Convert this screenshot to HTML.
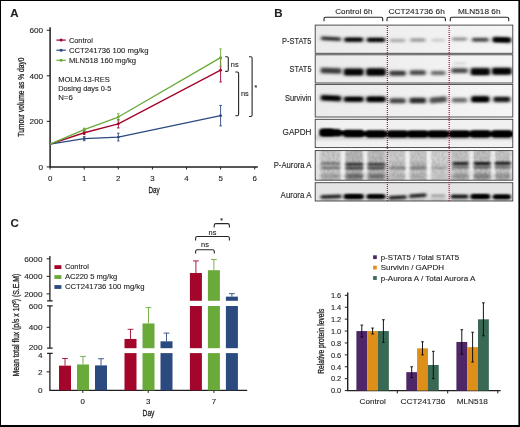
<!DOCTYPE html>
<html lang="en"><head><meta charset="utf-8"><title>Figure</title>
<style>html,body{margin:0;padding:0;background:#fff;}svg{display:block;will-change:transform;}text{font-family:"Liberation Sans", "DejaVu Sans", sans-serif;fill:#231f20;stroke:#231f20;stroke-width:0.12px;}</style>
</head><body>
<svg width="520" height="427" viewBox="0 0 520 427">
<defs>
<filter id="b1" x="-30%" y="-150%" width="160%" height="400%"><feGaussianBlur stdDeviation="1.5 0.95"/></filter>
<filter id="b2" x="-30%" y="-150%" width="160%" height="400%"><feGaussianBlur stdDeviation="2 1.6"/></filter>
<filter id="noise" x="0" y="0" width="100%" height="100%"><feTurbulence type="fractalNoise" baseFrequency="0.4 0.28" numOctaves="2" seed="7" result="n"/><feColorMatrix in="n" type="matrix" values="0 0 0 0 0  0 0 0 0 0  0 0 0 0 0  1.6 0 0 0 -0.45"/><feGaussianBlur stdDeviation="0.7"/></filter>
<linearGradient id="bgA" x1="0" y1="0" x2="1" y2="0"><stop offset="0" stop-color="#ebebeb"/><stop offset="0.5" stop-color="#f0f0f0"/><stop offset="1" stop-color="#f5f5f5"/></linearGradient>
<filter id="b3" x="-20%" y="-20%" width="140%" height="140%"><feGaussianBlur stdDeviation="2.2 1.2"/></filter>
<linearGradient id="bg1" x1="0" y1="0" x2="0" y2="1"><stop offset="0" stop-color="#efefef"/><stop offset="1" stop-color="#f6f6f6"/></linearGradient>
</defs>
<rect x="0" y="0" width="520" height="427" fill="#fff"/>
<g id="panelA">
<text x="10.3" y="17.1" font-size="11.5" text-anchor="start" font-weight="bold" fill="#000" >A</text>
<path d="M50.1 27.3V166.9H257.8" fill="none" stroke="#231f20" stroke-width="1.5"/>
<path d="M46.7 166.9H50.1" stroke="#231f20" stroke-width="1"/>
<text x="38.63" y="169.6" font-size="7.9" text-anchor="start" textLength="4.57" lengthAdjust="spacingAndGlyphs" >0</text>
<path d="M46.7 121.36H50.1" stroke="#231f20" stroke-width="1"/>
<text x="29.49" y="124.06" font-size="7.9" text-anchor="start" textLength="13.71" lengthAdjust="spacingAndGlyphs" >200</text>
<path d="M46.7 75.82H50.1" stroke="#231f20" stroke-width="1"/>
<text x="29.49" y="78.52" font-size="7.9" text-anchor="start" textLength="13.71" lengthAdjust="spacingAndGlyphs" >400</text>
<path d="M46.7 30.28H50.1" stroke="#231f20" stroke-width="1"/>
<text x="29.49" y="32.98" font-size="7.9" text-anchor="start" textLength="13.71" lengthAdjust="spacingAndGlyphs" >600</text>
<path d="M50.1 166.9v2.6" stroke="#231f20" stroke-width="1"/>
<text x="50.1" y="180.5" font-size="7.9" text-anchor="middle" >0</text>
<path d="M84.2 166.9v2.6" stroke="#231f20" stroke-width="1"/>
<text x="84.2" y="180.5" font-size="7.9" text-anchor="middle" >1</text>
<path d="M118.3 166.9v2.6" stroke="#231f20" stroke-width="1"/>
<text x="118.3" y="180.5" font-size="7.9" text-anchor="middle" >2</text>
<path d="M152.4 166.9v2.6" stroke="#231f20" stroke-width="1"/>
<text x="152.4" y="180.5" font-size="7.9" text-anchor="middle" >3</text>
<path d="M186.5 166.9v2.6" stroke="#231f20" stroke-width="1"/>
<text x="186.5" y="180.5" font-size="7.9" text-anchor="middle" >4</text>
<path d="M220.6 166.9v2.6" stroke="#231f20" stroke-width="1"/>
<text x="220.6" y="180.5" font-size="7.9" text-anchor="middle" >5</text>
<path d="M254.7 166.9v2.6" stroke="#231f20" stroke-width="1"/>
<text x="254.7" y="180.5" font-size="7.9" text-anchor="middle" >6</text>
<text x="148.5" y="193.1" font-size="9" text-anchor="start" textLength="11.2" lengthAdjust="spacingAndGlyphs" style="stroke-width:0.3px">Day</text>
<text transform="translate(23.5,136.7) rotate(-90)" font-size="8.8" style="stroke-width:0.3px" textLength="79.3" lengthAdjust="spacingAndGlyphs">Tumour volume as % day0</text>
<path d="M50.1 144.13 L84.2 132.75 L118.3 123.86 L220.6 70.13" fill="none" stroke="#a3052b" stroke-width="1.35" stroke-linejoin="round"/>
<path d="M84.2 130.92V134.57M82.9 130.92h2.6M82.9 134.57h2.6" fill="none" stroke="#a3052b" stroke-width="0.9"/>
<circle cx="84.2" cy="132.75" r="1.4" fill="#a3052b"/>
<path d="M118.3 119.77V127.96M117.0 119.77h2.6M117.0 127.96h2.6" fill="none" stroke="#a3052b" stroke-width="0.9"/>
<circle cx="118.3" cy="123.86" r="1.4" fill="#a3052b"/>
<path d="M220.6 58.29V81.97M219.29999999999998 58.29h2.6M219.29999999999998 81.97h2.6" fill="none" stroke="#a3052b" stroke-width="0.9"/>
<circle cx="220.6" cy="70.13" r="1.4" fill="#a3052b"/>
<path d="M50.1 144.13 L84.2 138.67 L118.3 137.07 L220.6 115.67" fill="none" stroke="#2b4a7f" stroke-width="1.35" stroke-linejoin="round"/>
<path d="M84.2 136.62V140.71M82.9 136.62h2.6M82.9 140.71h2.6" fill="none" stroke="#2b4a7f" stroke-width="0.9"/>
<circle cx="84.2" cy="138.67" r="1.4" fill="#2b4a7f"/>
<path d="M118.3 133.2V140.94M117.0 133.2h2.6M117.0 140.94h2.6" fill="none" stroke="#2b4a7f" stroke-width="0.9"/>
<circle cx="118.3" cy="137.07" r="1.4" fill="#2b4a7f"/>
<path d="M220.6 105.42V125.91M219.29999999999998 105.42h2.6M219.29999999999998 125.91h2.6" fill="none" stroke="#2b4a7f" stroke-width="0.9"/>
<circle cx="220.6" cy="115.67" r="1.4" fill="#2b4a7f"/>
<path d="M50.1 144.13 L84.2 129.56 L118.3 117.03 L220.6 57.6" fill="none" stroke="#6aaa3a" stroke-width="1.35" stroke-linejoin="round"/>
<path d="M84.2 128.19V130.92M82.9 128.19h2.6M82.9 130.92h2.6" fill="none" stroke="#6aaa3a" stroke-width="0.9"/>
<circle cx="84.2" cy="129.56" r="1.4" fill="#6aaa3a"/>
<path d="M118.3 113.85V120.22M117.0 113.85h2.6M117.0 120.22h2.6" fill="none" stroke="#6aaa3a" stroke-width="0.9"/>
<circle cx="118.3" cy="117.03" r="1.4" fill="#6aaa3a"/>
<path d="M220.6 48.95V66.26M219.29999999999998 48.95h2.6M219.29999999999998 66.26h2.6" fill="none" stroke="#6aaa3a" stroke-width="0.9"/>
<circle cx="220.6" cy="57.6" r="1.4" fill="#6aaa3a"/>
<path d="M56.4 40.10H65.8" stroke="#a3052b" stroke-width="1.2"/><circle cx="61.1" cy="40.10" r="1.5" fill="#a3052b"/>
<text x="68.9" y="42.6" font-size="7.6" text-anchor="start" textLength="23.9" lengthAdjust="spacingAndGlyphs" >Control</text>
<path d="M56.4 50.20H65.8" stroke="#2b4a7f" stroke-width="1.2"/><circle cx="61.1" cy="50.20" r="1.5" fill="#2b4a7f"/>
<text x="68.9" y="52.7" font-size="7.6" text-anchor="start" textLength="79.6" lengthAdjust="spacingAndGlyphs" >CCT241736 100 mg/kg</text>
<path d="M56.4 60.30H65.8" stroke="#6aaa3a" stroke-width="1.2"/><circle cx="61.1" cy="60.30" r="1.5" fill="#6aaa3a"/>
<text x="68.9" y="62.8" font-size="7.6" text-anchor="start" textLength="67.2" lengthAdjust="spacingAndGlyphs" >MLN518 160 mg/kg</text>
<text x="58.2" y="82.3" font-size="7.6" text-anchor="start" textLength="51.6" lengthAdjust="spacingAndGlyphs" >MOLM-13-RES</text>
<text x="58.2" y="91.3" font-size="7.6" text-anchor="start" textLength="53.2" lengthAdjust="spacingAndGlyphs" >Dosing days 0-5</text>
<text x="58.2" y="100.4" font-size="7.6" text-anchor="start" textLength="14.6" lengthAdjust="spacingAndGlyphs" >N=6</text>
<path d="M225.2 56.8H226.9Q228.3 56.8 228.3 58.199999999999996V70.0Q228.3 71.4 226.9 71.4H225.2" fill="none" stroke="#262626" stroke-width="1.1"/>
<text x="230.8" y="67.2" font-size="7.4" text-anchor="start" >ns</text>
<path d="M235.3 72.0H237.2Q238.6 72.0 238.6 73.4V114.3Q238.6 115.7 237.2 115.7H235.3" fill="none" stroke="#262626" stroke-width="1.1"/>
<text x="241.0" y="96.4" font-size="7.4" text-anchor="start" >ns</text>
<path d="M249.0 56.8H250.7Q252.1 56.8 252.1 58.199999999999996V115.1Q252.1 116.5 250.7 116.5H249.0" fill="none" stroke="#262626" stroke-width="1.1"/>
<text x="254.5" y="90.2" font-size="6.8" text-anchor="start" >*</text>
</g>
<g id="panelB">
<text x="274.2" y="17.1" font-size="11.5" text-anchor="start" font-weight="bold" fill="#000" >B</text>
<text x="335.2" y="14.0" font-size="8.1" text-anchor="start" textLength="37.2" lengthAdjust="spacingAndGlyphs" >Control 6h</text>
<text x="388.4" y="14.0" font-size="8.1" text-anchor="start" textLength="56.4" lengthAdjust="spacingAndGlyphs" >CCT241736 6h</text>
<text x="457.9" y="14.0" font-size="8.1" text-anchor="start" textLength="42.6" lengthAdjust="spacingAndGlyphs" >MLN518 6h</text>
<path d="M324 21.3V18.7Q324 17.2 325.5 17.2H381.2Q382.7 17.2 382.7 18.7V21.3" fill="none" stroke="#262626" stroke-width="1.1"/>
<path d="M387 21.3V18.7Q387 17.2 388.5 17.2H443.9Q445.4 17.2 445.4 18.7V21.3" fill="none" stroke="#262626" stroke-width="1.1"/>
<path d="M450.3 21.3V18.7Q450.3 17.2 451.8 17.2H507.2Q508.7 17.2 508.7 18.7V21.3" fill="none" stroke="#262626" stroke-width="1.1"/>
<clipPath id="c0"><rect x="315.2" y="25.1" width="197.6" height="28.2"/></clipPath>
<rect x="315.2" y="25.1" width="197.6" height="28.2" fill="url(#bgA)"/>
<g clip-path="url(#c0)">
<rect x="320.6" y="36.10" width="20.8" height="5.2" rx="1.60" fill="#000" opacity="0.22400000000000003" filter="url(#b2)" transform="rotate(3 331 38.7)"/>
<rect x="321.2" y="37.20" width="19.6" height="3.0" rx="1.50" fill="#000" opacity="0.8" filter="url(#b1)" transform="rotate(3 331 38.7)"/>
<rect x="343.9" y="36.70" width="19.6" height="6.0" rx="1.60" fill="#000" opacity="0.266" filter="url(#b2)"/>
<rect x="344.5" y="37.80" width="18.4" height="3.8" rx="1.60" fill="#000" opacity="0.95" filter="url(#b1)"/>
<rect x="366.4" y="36.80" width="19.2" height="6.0" rx="1.60" fill="#000" opacity="0.266" filter="url(#b2)"/>
<rect x="367.0" y="37.90" width="18.0" height="3.8" rx="1.60" fill="#000" opacity="0.95" filter="url(#b1)"/>
<rect x="389.4" y="37.80" width="16.4" height="5.2" rx="1.60" fill="#000" opacity="0.06160000000000001" filter="url(#b2)"/>
<rect x="390.0" y="38.90" width="15.2" height="3.0" rx="1.50" fill="#000" opacity="0.22" filter="url(#b1)"/>
<rect x="409.6" y="37.40" width="16.4" height="5.2" rx="1.60" fill="#000" opacity="0.084" filter="url(#b2)"/>
<rect x="410.2" y="38.50" width="15.2" height="3.0" rx="1.50" fill="#000" opacity="0.3" filter="url(#b1)"/>
<rect x="431.0" y="37.80" width="14.4" height="4.800000000000001" rx="1.60" fill="#000" opacity="0.033600000000000005" filter="url(#b2)"/>
<rect x="431.6" y="38.90" width="13.2" height="2.6" rx="1.30" fill="#000" opacity="0.12" filter="url(#b1)"/>
<rect x="451.5" y="36.60" width="16.0" height="5.0" rx="1.60" fill="#000" opacity="0.09520000000000002" filter="url(#b2)"/>
<rect x="452.1" y="37.70" width="14.8" height="2.8" rx="1.40" fill="#000" opacity="0.34" filter="url(#b1)"/>
<rect x="471.5" y="37.00" width="17.6" height="5.6" rx="1.60" fill="#000" opacity="0.1736" filter="url(#b2)"/>
<rect x="472.1" y="38.10" width="16.4" height="3.4" rx="1.60" fill="#000" opacity="0.62" filter="url(#b1)"/>
<rect x="492.2" y="36.50" width="19.2" height="6.8" rx="1.60" fill="#000" opacity="0.28" filter="url(#b2)" transform="rotate(2 501.8 39.9)"/>
<rect x="492.8" y="37.60" width="18.0" height="4.6" rx="1.60" fill="#000" opacity="1" filter="url(#b1)" transform="rotate(2 501.8 39.9)"/>
<rect x="494.2" y="38.60" width="15.2" height="2.6" rx="1.30" fill="#000" opacity="0.8" filter="url(#b1)"/>
<rect x="346.7" y="39.10" width="14.0" height="1.6" rx="0.80" fill="#000" opacity="0.4" filter="url(#b1)"/>
<rect x="369.0" y="39.20" width="14.0" height="1.6" rx="0.80" fill="#000" opacity="0.4" filter="url(#b1)"/>
</g>
<rect x="315.2" y="25.1" width="197.6" height="28.2" fill="none" stroke="#3c3c3c" stroke-width="0.9"/>
<text x="282.1" y="44.0" font-size="8.3" text-anchor="start" textLength="29.4" lengthAdjust="spacingAndGlyphs" >P-STAT5</text>
<clipPath id="c1"><rect x="315.2" y="54.8" width="197.6" height="28.2"/></clipPath>
<rect x="315.2" y="54.8" width="197.6" height="28.2" fill="url(#bgA)"/>
<g clip-path="url(#c1)">
<rect x="320.2" y="67.10" width="21.6" height="7.4" rx="1.60" fill="#000" opacity="0.20400000000000001" filter="url(#b2)" transform="rotate(2 331 70.8)"/>
<rect x="320.8" y="68.30" width="20.4" height="5.0" rx="1.60" fill="#000" opacity="0.68" filter="url(#b1)" transform="rotate(2 331 70.8)"/>
<rect x="343.5" y="67.50" width="20.4" height="9.0" rx="1.60" fill="#000" opacity="0.276" filter="url(#b2)"/>
<rect x="344.1" y="68.70" width="19.2" height="6.6" rx="1.60" fill="#000" opacity="0.92" filter="url(#b1)"/>
<rect x="365.8" y="67.40" width="20.4" height="9.2" rx="1.60" fill="#000" opacity="0.285" filter="url(#b2)"/>
<rect x="366.4" y="68.60" width="19.2" height="6.8" rx="1.60" fill="#000" opacity="0.95" filter="url(#b1)"/>
<rect x="389.0" y="69.70" width="17.2" height="7.0" rx="1.60" fill="#000" opacity="0.20400000000000001" filter="url(#b2)"/>
<rect x="389.6" y="70.90" width="16.0" height="4.6" rx="1.60" fill="#000" opacity="0.68" filter="url(#b1)"/>
<rect x="409.4" y="69.20" width="16.8" height="6.800000000000001" rx="1.60" fill="#000" opacity="0.186" filter="url(#b2)"/>
<rect x="410.0" y="70.40" width="15.6" height="4.4" rx="1.60" fill="#000" opacity="0.62" filter="url(#b1)"/>
<rect x="430.4" y="69.90" width="15.6" height="6.199999999999999" rx="1.60" fill="#000" opacity="0.132" filter="url(#b2)"/>
<rect x="431.0" y="71.10" width="14.4" height="3.8" rx="1.60" fill="#000" opacity="0.44" filter="url(#b1)"/>
<rect x="450.9" y="67.20" width="17.2" height="6.800000000000001" rx="1.60" fill="#000" opacity="0.186" filter="url(#b2)"/>
<rect x="451.5" y="68.40" width="16.0" height="4.4" rx="1.60" fill="#000" opacity="0.62" filter="url(#b1)"/>
<rect x="470.3" y="67.10" width="20.0" height="9.0" rx="1.60" fill="#000" opacity="0.276" filter="url(#b2)"/>
<rect x="470.9" y="68.30" width="18.8" height="6.6" rx="1.60" fill="#000" opacity="0.92" filter="url(#b1)"/>
<rect x="491.6" y="66.80" width="20.4" height="8.8" rx="1.60" fill="#000" opacity="0.285" filter="url(#b2)"/>
<rect x="492.2" y="68.00" width="19.2" height="6.4" rx="1.60" fill="#000" opacity="0.95" filter="url(#b1)"/>
<rect x="346.1" y="71.10" width="15.2" height="3.0" rx="1.50" fill="#000" opacity="0.55" filter="url(#b1)"/>
<rect x="368.4" y="71.10" width="15.2" height="3.0" rx="1.50" fill="#000" opacity="0.55" filter="url(#b1)"/>
<rect x="472.7" y="70.70" width="15.2" height="3.0" rx="1.50" fill="#000" opacity="0.55" filter="url(#b1)"/>
<rect x="494.2" y="70.30" width="15.2" height="3.0" rx="1.50" fill="#000" opacity="0.55" filter="url(#b1)"/>
<rect x="453.5" y="62.20" width="13.0" height="2.4" rx="1.20" fill="#000" opacity="0.1" filter="url(#b1)"/>
</g>
<rect x="315.2" y="54.8" width="197.6" height="28.2" fill="none" stroke="#3c3c3c" stroke-width="0.9"/>
<text x="289.6" y="72.1" font-size="8.3" text-anchor="start" textLength="21.9" lengthAdjust="spacingAndGlyphs" >STAT5</text>
<clipPath id="c2"><rect x="315.2" y="84.4" width="197.6" height="32.6"/></clipPath>
<rect x="315.2" y="84.4" width="197.6" height="32.6" fill="url(#bgA)"/>
<g clip-path="url(#c2)">
<rect x="320.4" y="94.60" width="21.2" height="7.199999999999999" rx="1.60" fill="#000" opacity="0.3136" filter="url(#b2)" transform="rotate(3 331 98.2)"/>
<rect x="321.0" y="95.80" width="20.0" height="4.8" rx="1.60" fill="#000" opacity="0.98" filter="url(#b1)" transform="rotate(3 331 98.2)"/>
<rect x="343.5" y="95.70" width="20.4" height="7.0" rx="1.60" fill="#000" opacity="0.304" filter="url(#b2)"/>
<rect x="344.1" y="96.90" width="19.2" height="4.6" rx="1.60" fill="#000" opacity="0.95" filter="url(#b1)"/>
<rect x="366.0" y="95.50" width="20.0" height="7.4" rx="1.60" fill="#000" opacity="0.3136" filter="url(#b2)"/>
<rect x="366.6" y="96.70" width="18.8" height="5.0" rx="1.60" fill="#000" opacity="0.98" filter="url(#b1)"/>
<rect x="389.2" y="97.30" width="16.8" height="7.0" rx="1.60" fill="#000" opacity="0.1984" filter="url(#b2)"/>
<rect x="389.8" y="98.50" width="15.6" height="4.6" rx="1.60" fill="#000" opacity="0.62" filter="url(#b1)"/>
<rect x="409.2" y="96.70" width="17.2" height="7.4" rx="1.60" fill="#000" opacity="0.2368" filter="url(#b2)"/>
<rect x="409.8" y="97.90" width="16.0" height="5.0" rx="1.60" fill="#000" opacity="0.74" filter="url(#b1)"/>
<rect x="429.2" y="96.00" width="18.0" height="7.6" rx="1.60" fill="#000" opacity="0.192" filter="url(#b2)" transform="rotate(-5 438.2 99.8)"/>
<rect x="429.8" y="97.20" width="16.8" height="5.2" rx="1.60" fill="#000" opacity="0.6" filter="url(#b1)" transform="rotate(-5 438.2 99.8)"/>
<rect x="451.5" y="96.90" width="16.0" height="6.6" rx="1.60" fill="#000" opacity="0.14400000000000002" filter="url(#b2)"/>
<rect x="452.1" y="98.10" width="14.8" height="4.2" rx="1.60" fill="#000" opacity="0.45" filter="url(#b1)"/>
<rect x="470.9" y="95.30" width="18.8" height="7.800000000000001" rx="1.60" fill="#000" opacity="0.32" filter="url(#b2)"/>
<rect x="471.5" y="96.50" width="17.6" height="5.4" rx="1.60" fill="#000" opacity="1" filter="url(#b1)"/>
<rect x="493.0" y="95.90" width="17.6" height="7.0" rx="1.60" fill="#000" opacity="0.2752" filter="url(#b2)"/>
<rect x="493.6" y="97.10" width="16.4" height="4.6" rx="1.60" fill="#000" opacity="0.86" filter="url(#b1)"/>
<rect x="323.6" y="97.10" width="14.8" height="2.2" rx="1.10" fill="#000" opacity="0.6" filter="url(#b1)"/>
<rect x="346.3" y="98.10" width="14.8" height="2.2" rx="1.10" fill="#000" opacity="0.6" filter="url(#b1)"/>
<rect x="368.6" y="98.10" width="14.8" height="2.2" rx="1.10" fill="#000" opacity="0.6" filter="url(#b1)"/>
<rect x="472.9" y="98.10" width="14.8" height="2.2" rx="1.10" fill="#000" opacity="0.6" filter="url(#b1)"/>
</g>
<rect x="315.2" y="84.4" width="197.6" height="32.6" fill="none" stroke="#3c3c3c" stroke-width="0.9"/>
<text x="284.9" y="100.7" font-size="8.3" text-anchor="start" textLength="26.6" lengthAdjust="spacingAndGlyphs" >Survivin</text>
<clipPath id="c3"><rect x="315.2" y="119.3" width="197.6" height="28.3"/></clipPath>
<rect x="315.2" y="119.3" width="197.6" height="28.3" fill="#f1f1f1"/>
<g clip-path="url(#c3)">
<path d="M321 132.4L331 132.6L353.7 133.5L376 134H516.8" fill="none" stroke="#000" stroke-width="5" filter="url(#b1)"/>
<rect x="321.2" y="128.90" width="19.6" height="7.4" rx="1.60" fill="#000" opacity="0.97" filter="url(#b1)"/>
<rect x="343.9" y="129.80" width="19.6" height="7.4" rx="1.60" fill="#000" opacity="0.97" filter="url(#b1)"/>
<rect x="366.2" y="130.30" width="19.6" height="7.4" rx="1.60" fill="#000" opacity="0.97" filter="url(#b1)"/>
<rect x="387.8" y="130.40" width="19.6" height="7.4" rx="1.60" fill="#000" opacity="0.97" filter="url(#b1)"/>
<rect x="408.0" y="130.40" width="19.6" height="7.4" rx="1.60" fill="#000" opacity="0.97" filter="url(#b1)"/>
<rect x="428.4" y="130.40" width="19.6" height="7.4" rx="1.60" fill="#000" opacity="0.97" filter="url(#b1)"/>
<rect x="449.7" y="130.40" width="19.6" height="7.4" rx="1.60" fill="#000" opacity="0.97" filter="url(#b1)"/>
<rect x="470.5" y="130.30" width="19.6" height="7.4" rx="1.60" fill="#000" opacity="0.97" filter="url(#b1)"/>
<rect x="492.0" y="130.30" width="19.6" height="7.4" rx="1.60" fill="#000" opacity="0.97" filter="url(#b1)"/>
<rect x="319.5" y="128.80" width="14.0" height="7.2" rx="1.60" fill="#000" opacity="0.9" filter="url(#b1)"/>
<rect x="311.2" y="135" width="205.6" height="5" fill="#000" opacity="0.12" filter="url(#b2)"/>
</g>
<rect x="315.2" y="119.3" width="197.6" height="28.3" fill="none" stroke="#3c3c3c" stroke-width="0.9"/>
<text x="282.6" y="135.3" font-size="8.3" text-anchor="start" textLength="28.9" lengthAdjust="spacingAndGlyphs" >GAPDH</text>
<clipPath id="c4"><rect x="315.2" y="150.6" width="197.6" height="29.6"/></clipPath>
<rect x="315.2" y="150.6" width="197.6" height="29.6" fill="#d8d8d8"/>
<g clip-path="url(#c4)">
<rect x="315.2" y="150.6" width="197.6" height="29.6" filter="url(#noise)" opacity="0.13"/>
<rect x="320.8" y="147.6" width="19.6" height="35.6" fill="#000" opacity="0.06" filter="url(#b3)"/>
<rect x="345.2" y="147.6" width="18.4" height="35.6" fill="#000" opacity="0.15" filter="url(#b3)"/>
<rect x="367.0" y="147.6" width="18.8" height="35.6" fill="#000" opacity="0.13" filter="url(#b3)"/>
<rect x="389.4" y="147.6" width="16.4" height="35.6" fill="#000" opacity="0.05" filter="url(#b3)"/>
<rect x="409.4" y="147.6" width="17.6" height="35.6" fill="#000" opacity="0.07" filter="url(#b3)"/>
<rect x="430.6" y="147.6" width="16.8" height="35.6" fill="#000" opacity="0.02" filter="url(#b3)"/>
<rect x="451.8" y="147.6" width="17.6" height="35.6" fill="#000" opacity="0.09" filter="url(#b3)"/>
<rect x="473.2" y="147.6" width="18.0" height="35.6" fill="#000" opacity="0.11" filter="url(#b3)"/>
<rect x="494.8" y="147.6" width="16.0" height="35.6" fill="#000" opacity="0.08" filter="url(#b3)"/>
<rect x="315.8" y="147.6" width="3.6" height="35.6" fill="#fff" opacity="0.6" filter="url(#b1)"/>
<rect x="341.3" y="147.6" width="3.4" height="35.6" fill="#fff" opacity="0.95" filter="url(#b1)"/>
<rect x="363.6" y="147.6" width="3.4" height="35.6" fill="#fff" opacity="0.95" filter="url(#b1)"/>
<rect x="405.8" y="147.6" width="3.4" height="35.6" fill="#fff" opacity="0.95" filter="url(#b1)"/>
<rect x="427.1" y="147.6" width="3.4" height="35.6" fill="#fff" opacity="0.95" filter="url(#b1)"/>
<rect x="469.7" y="147.6" width="3.2" height="35.6" fill="#fff" opacity="0.9" filter="url(#b1)"/>
<rect x="491.4" y="147.6" width="3.2" height="35.6" fill="#fff" opacity="0.9" filter="url(#b1)"/>
<rect x="510.1" y="147.6" width="2.6" height="35.6" fill="#fff" opacity="0.55" filter="url(#b1)"/>
<rect x="385.3" y="147.6" width="1.8" height="35.6" fill="#fff" opacity="0.4" filter="url(#b1)"/>
<rect x="448.7" y="147.6" width="1.8" height="35.6" fill="#fff" opacity="0.45" filter="url(#b1)"/>
<rect x="321.0" y="162.00" width="19.2" height="3.0" rx="1.50" fill="#000" opacity="0.38" filter="url(#b1)"/>
<rect x="321.0" y="166.40" width="19.2" height="2.8" rx="1.40" fill="#000" opacity="0.42" filter="url(#b1)"/>
<rect x="321.0" y="173.70" width="19.2" height="5.0" rx="1.60" fill="#000" opacity="0.2" filter="url(#b2)"/>
<rect x="345.4" y="162.70" width="18.0" height="3.0" rx="1.50" fill="#000" opacity="0.74" filter="url(#b1)"/>
<rect x="345.4" y="166.70" width="18.0" height="2.8" rx="1.40" fill="#000" opacity="0.68" filter="url(#b1)"/>
<rect x="345.4" y="173.70" width="18.0" height="5.0" rx="1.60" fill="#000" opacity="0.45" filter="url(#b2)"/>
<rect x="367.4" y="162.70" width="18.0" height="3.0" rx="1.50" fill="#000" opacity="0.68" filter="url(#b1)"/>
<rect x="367.4" y="166.70" width="18.0" height="2.8" rx="1.40" fill="#000" opacity="0.64" filter="url(#b1)"/>
<rect x="367.4" y="173.70" width="18.0" height="5.0" rx="1.60" fill="#000" opacity="0.4" filter="url(#b2)"/>
<rect x="389.2" y="162.50" width="16.8" height="3.0" rx="1.50" fill="#000" opacity="0.08" filter="url(#b1)"/>
<rect x="389.2" y="166.60" width="16.8" height="2.8" rx="1.40" fill="#000" opacity="0.36" filter="url(#b1)"/>
<rect x="389.2" y="173.70" width="16.8" height="5.0" rx="1.60" fill="#000" opacity="0.12" filter="url(#b2)"/>
<rect x="409.8" y="162.50" width="16.8" height="3.0" rx="1.50" fill="#000" opacity="0.12" filter="url(#b1)"/>
<rect x="409.8" y="166.60" width="16.8" height="2.8" rx="1.40" fill="#000" opacity="0.38" filter="url(#b1)"/>
<rect x="409.8" y="173.70" width="16.8" height="5.0" rx="1.60" fill="#000" opacity="0.14" filter="url(#b2)"/>
<rect x="431.4" y="162.50" width="15.2" height="3.0" rx="1.50" fill="#000" opacity="0.04" filter="url(#b1)"/>
<rect x="431.4" y="166.80" width="15.2" height="2.8" rx="1.40" fill="#000" opacity="0.24" filter="url(#b1)"/>
<rect x="431.4" y="173.70" width="15.2" height="5.0" rx="1.60" fill="#000" opacity="0.06" filter="url(#b2)"/>
<rect x="452.6" y="162.00" width="16.0" height="3.0" rx="1.50" fill="#000" opacity="0.86" filter="url(#b1)"/>
<rect x="452.6" y="165.80" width="16.0" height="2.8" rx="1.40" fill="#000" opacity="0.44" filter="url(#b1)"/>
<rect x="452.6" y="173.70" width="16.0" height="5.0" rx="1.60" fill="#000" opacity="0.24" filter="url(#b2)"/>
<rect x="473.8" y="162.00" width="16.8" height="3.0" rx="1.50" fill="#000" opacity="0.92" filter="url(#b1)"/>
<rect x="473.8" y="165.80" width="16.8" height="2.8" rx="1.40" fill="#000" opacity="0.52" filter="url(#b1)"/>
<rect x="473.8" y="173.70" width="16.8" height="5.0" rx="1.60" fill="#000" opacity="0.34" filter="url(#b2)"/>
<rect x="494.6" y="161.80" width="16.4" height="3.0" rx="1.50" fill="#000" opacity="0.9" filter="url(#b1)"/>
<rect x="494.6" y="165.60" width="16.4" height="2.8" rx="1.40" fill="#000" opacity="0.44" filter="url(#b1)"/>
<rect x="494.6" y="173.70" width="16.4" height="5.0" rx="1.60" fill="#000" opacity="0.26" filter="url(#b2)"/>
</g>
<rect x="315.2" y="150.6" width="197.6" height="29.6" fill="none" stroke="#3c3c3c" stroke-width="0.9"/>
<text x="273.7" y="168.4" font-size="8.3" text-anchor="start" textLength="37.8" lengthAdjust="spacingAndGlyphs" >P-Aurora A</text>
<clipPath id="c5"><rect x="315.2" y="182.7" width="197.6" height="18.3"/></clipPath>
<rect x="315.2" y="182.7" width="197.6" height="18.3" fill="#e4e4e4"/>
<g clip-path="url(#c5)">
<rect x="320.4" y="194.80" width="21.2" height="3.8" rx="1.60" fill="#000" opacity="0.85" filter="url(#b1)" transform="rotate(-2 331 196.7)"/>
<rect x="343.7" y="194.00" width="20.0" height="5.0" rx="1.60" fill="#000" opacity="1" filter="url(#b1)"/>
<rect x="366.6" y="194.20" width="18.8" height="4.6" rx="1.60" fill="#000" opacity="1" filter="url(#b1)"/>
<rect x="388.4" y="195.40" width="18.4" height="3.8" rx="1.60" fill="#000" opacity="0.85" filter="url(#b1)" transform="rotate(-3 397.6 197.3)"/>
<rect x="409.0" y="193.70" width="17.6" height="3.8" rx="1.60" fill="#000" opacity="0.85" filter="url(#b1)" transform="rotate(-4 417.8 195.6)"/>
<rect x="430.8" y="194.30" width="14.8" height="3.0" rx="1.50" fill="#000" opacity="0.28" filter="url(#b1)"/>
<rect x="450.7" y="194.50" width="17.6" height="4.0" rx="1.60" fill="#000" opacity="0.9" filter="url(#b1)"/>
<rect x="470.5" y="194.00" width="19.6" height="5.0" rx="1.60" fill="#000" opacity="1" filter="url(#b1)"/>
<rect x="492.8" y="194.40" width="18.0" height="4.6" rx="1.60" fill="#000" opacity="1" filter="url(#b1)"/>
<rect x="346.3" y="195.00" width="14.8" height="3.0" rx="1.50" fill="#000" opacity="0.8" filter="url(#b1)"/>
<rect x="368.6" y="195.00" width="14.8" height="3.0" rx="1.50" fill="#000" opacity="0.8" filter="url(#b1)"/>
<rect x="472.9" y="195.00" width="14.8" height="3.0" rx="1.50" fill="#000" opacity="0.8" filter="url(#b1)"/>
<rect x="494.4" y="195.20" width="14.8" height="3.0" rx="1.50" fill="#000" opacity="0.8" filter="url(#b1)"/>
<rect x="322.2" y="198.70" width="17.6" height="3.0" rx="1.50" fill="#000" opacity="0.2" filter="url(#b2)"/>
<rect x="344.9" y="198.70" width="17.6" height="3.0" rx="1.50" fill="#000" opacity="0.2" filter="url(#b2)"/>
<rect x="367.2" y="198.70" width="17.6" height="3.0" rx="1.50" fill="#000" opacity="0.2" filter="url(#b2)"/>
<rect x="388.8" y="198.70" width="17.6" height="3.0" rx="1.50" fill="#000" opacity="0.2" filter="url(#b2)"/>
<rect x="409.0" y="198.70" width="17.6" height="3.0" rx="1.50" fill="#000" opacity="0.2" filter="url(#b2)"/>
<rect x="429.4" y="198.70" width="17.6" height="3.0" rx="1.50" fill="#000" opacity="0.2" filter="url(#b2)"/>
<rect x="450.7" y="198.70" width="17.6" height="3.0" rx="1.50" fill="#000" opacity="0.2" filter="url(#b2)"/>
<rect x="471.5" y="198.70" width="17.6" height="3.0" rx="1.50" fill="#000" opacity="0.2" filter="url(#b2)"/>
<rect x="493.0" y="198.70" width="17.6" height="3.0" rx="1.50" fill="#000" opacity="0.2" filter="url(#b2)"/>
</g>
<rect x="315.2" y="182.7" width="197.6" height="18.3" fill="none" stroke="#3c3c3c" stroke-width="0.9"/>
<text x="280.6" y="198.1" font-size="8.3" text-anchor="start" textLength="30.9" lengthAdjust="spacingAndGlyphs" >Aurora A</text>
<path d="M387.4 26V201" stroke="#c0143f" stroke-width="1.25" stroke-dasharray="1 1"/>
<path d="M449.2 26V201" stroke="#c0143f" stroke-width="1.25" stroke-dasharray="1 1"/>
</g>
<g id="panelC">
<text x="10.6" y="227.4" font-size="11.5" text-anchor="start" font-weight="bold" fill="#000" >C</text>
<path d="M49.9 255.9V300.9M47.1 300.9h5.6M47.1 305.9h5.6M49.9 305.9V348.2M47.1 348.2h5.6M47.1 353.4h5.6M49.9 353.4V390.3H247.2" fill="none" stroke="#231f20" stroke-width="1.3"/>
<path d="M46.6 293.9H49.9" stroke="#231f20" stroke-width="1"/>
<text x="24.22" y="296.6" font-size="7.9" text-anchor="start" textLength="18.28" lengthAdjust="spacingAndGlyphs" >2000</text>
<path d="M46.6 276.35H49.9" stroke="#231f20" stroke-width="1"/>
<text x="24.22" y="279.05" font-size="7.9" text-anchor="start" textLength="18.28" lengthAdjust="spacingAndGlyphs" >4000</text>
<path d="M46.6 258.8H49.9" stroke="#231f20" stroke-width="1"/>
<text x="24.22" y="261.5" font-size="7.9" text-anchor="start" textLength="18.28" lengthAdjust="spacingAndGlyphs" >6000</text>
<text x="28.79" y="349.5" font-size="7.9" text-anchor="start" textLength="13.71" lengthAdjust="spacingAndGlyphs" >200</text>
<path d="M46.6 327.3H49.9" stroke="#231f20" stroke-width="1"/>
<text x="28.79" y="330.0" font-size="7.9" text-anchor="start" textLength="13.71" lengthAdjust="spacingAndGlyphs" >400</text>
<text x="28.79" y="308.6" font-size="7.9" text-anchor="start" textLength="13.71" lengthAdjust="spacingAndGlyphs" >600</text>
<text x="37.93" y="393.0" font-size="7.9" text-anchor="start" textLength="4.57" lengthAdjust="spacingAndGlyphs" >0</text>
<path d="M46.6 371.84H49.9" stroke="#231f20" stroke-width="1"/>
<text x="37.93" y="374.5" font-size="7.9" text-anchor="start" textLength="4.57" lengthAdjust="spacingAndGlyphs" >2</text>
<text x="37.93" y="357.6" font-size="7.9" text-anchor="start" textLength="4.57" lengthAdjust="spacingAndGlyphs" >4</text>
<text transform="translate(19.0,376.4) rotate(-90) scale(0.78,1)" font-size="8.8" style="stroke-width:0.3px">Mean total flux (p/s x 10<tspan dy="-2.8" font-size="5.8">6</tspan><tspan dy="2.8">) (S.E.M)</tspan></text>
<path d="M82.8 390.3v2.6" stroke="#231f20" stroke-width="1"/>
<text x="82.8" y="403.7" font-size="7.9" text-anchor="middle" >0</text>
<path d="M148.2 390.3v2.6" stroke="#231f20" stroke-width="1"/>
<text x="148.2" y="403.7" font-size="7.9" text-anchor="middle" >3</text>
<path d="M213.9 390.3v2.6" stroke="#231f20" stroke-width="1"/>
<text x="213.9" y="403.7" font-size="7.9" text-anchor="middle" >7</text>
<text x="142.6" y="415.9" font-size="9" text-anchor="start" textLength="11.8" lengthAdjust="spacingAndGlyphs" style="stroke-width:0.3px">Day</text>
<rect x="59.0" y="365.66" width="12.0" height="24.64" fill="#a3052b"/>
<path d="M65.0 365.66V358.46M62.1 358.46h5.8" fill="none" stroke="#a3052b" stroke-width="0.9"/>
<rect x="77.0" y="364.46" width="12.0" height="25.84" fill="#6aaa3a"/>
<path d="M83.0 364.46V356.43M80.1 356.43h5.8" fill="none" stroke="#6aaa3a" stroke-width="0.9"/>
<rect x="95.0" y="365.38" width="12.0" height="24.92" fill="#2b4a7f"/>
<path d="M101.0 365.38V358.73M98.1 358.73h5.8" fill="none" stroke="#2b4a7f" stroke-width="0.9"/>
<rect x="124.5" y="353.1" width="12.0" height="37.20" fill="#a3052b"/>
<rect x="124.5" y="338.96" width="12.0" height="9.24" fill="#a3052b"/>
<path d="M130.5 338.96V329.33M127.6 329.33h5.8" fill="none" stroke="#a3052b" stroke-width="0.9"/>
<rect x="142.5" y="353.1" width="12.0" height="37.20" fill="#6aaa3a"/>
<rect x="142.5" y="323.45" width="12.0" height="24.75" fill="#6aaa3a"/>
<path d="M148.5 323.45V307.61M145.6 307.61h5.8" fill="none" stroke="#6aaa3a" stroke-width="0.9"/>
<rect x="160.5" y="353.1" width="12.0" height="37.20" fill="#2b4a7f"/>
<rect x="160.5" y="341.32" width="12.0" height="6.88" fill="#2b4a7f"/>
<path d="M166.5 341.32V333.08M163.6 333.08h5.8" fill="none" stroke="#2b4a7f" stroke-width="0.9"/>
<rect x="189.9" y="353.1" width="12.0" height="37.20" fill="#a3052b"/>
<rect x="189.9" y="306.0" width="12.0" height="42.20" fill="#a3052b"/>
<rect x="189.9" y="273.02" width="12.0" height="27.78" fill="#a3052b"/>
<path d="M195.9 273.02V260.91M193.0 260.91h5.8" fill="none" stroke="#a3052b" stroke-width="0.9"/>
<rect x="207.9" y="353.1" width="12.0" height="37.20" fill="#6aaa3a"/>
<rect x="207.9" y="306.0" width="12.0" height="42.20" fill="#6aaa3a"/>
<rect x="207.9" y="270.21" width="12.0" height="30.59" fill="#6aaa3a"/>
<path d="M213.9 270.21V259.59M211.0 259.59h5.8" fill="none" stroke="#6aaa3a" stroke-width="0.9"/>
<rect x="225.9" y="353.1" width="12.0" height="37.20" fill="#2b4a7f"/>
<rect x="225.9" y="306.0" width="12.0" height="42.20" fill="#2b4a7f"/>
<rect x="225.9" y="296.62" width="12.0" height="4.18" fill="#2b4a7f"/>
<path d="M231.9 296.62V293.64M229.0 293.64h5.8" fill="none" stroke="#2b4a7f" stroke-width="0.9"/>
<rect x="54.4" y="265.20" width="7" height="3.8" fill="#a3052b"/>
<text x="64.9" y="269.3" font-size="7.6" text-anchor="start" textLength="23.9" lengthAdjust="spacingAndGlyphs" >Control</text>
<rect x="54.4" y="275.15" width="7" height="3.8" fill="#6aaa3a"/>
<text x="64.9" y="279.25" font-size="7.6" text-anchor="start" textLength="52.3" lengthAdjust="spacingAndGlyphs" >AC220 5 mg/kg</text>
<rect x="54.4" y="285.10" width="7" height="3.8" fill="#2b4a7f"/>
<text x="64.9" y="289.2" font-size="7.6" text-anchor="start" textLength="79.6" lengthAdjust="spacingAndGlyphs" >CCT241736 100 mg/kg</text>
<path d="M195.6 253.6V251.60000000000002Q195.6 249.8 197.4 249.8H212.5Q214.3 249.8 214.3 251.60000000000002V253.6" fill="none" stroke="#262626" stroke-width="1.1"/>
<text x="205.0" y="247.0" font-size="7.4" text-anchor="middle" >ns</text>
<path d="M195.6 240.5V238.3Q195.6 236.5 197.4 236.5H227.6Q229.4 236.5 229.4 238.3V240.5" fill="none" stroke="#262626" stroke-width="1.1"/>
<text x="212.5" y="234.6" font-size="7.4" text-anchor="middle" >ns</text>
<path d="M214.2 227.6V225.4Q214.2 223.6 216.0 223.6H227.6Q229.4 223.6 229.4 225.4V227.6" fill="none" stroke="#262626" stroke-width="1.1"/>
<text x="221.7" y="223.2" font-size="6.8" text-anchor="middle" >*</text>
</g>
<g id="panelD">
<path d="M347.7 292.6V390.6H500.6" fill="none" stroke="#231f20" stroke-width="1.4"/>
<path d="M344.8 390.6H347.7" stroke="#231f20" stroke-width="1"/>
<text x="330.9" y="393.40000000000003" font-size="7.9" text-anchor="start" textLength="10.4" lengthAdjust="spacingAndGlyphs" >0.0</text>
<path d="M344.8 378.69H347.7" stroke="#231f20" stroke-width="1"/>
<text x="330.9" y="381.49" font-size="7.9" text-anchor="start" textLength="10.4" lengthAdjust="spacingAndGlyphs" >0.2</text>
<path d="M344.8 366.78H347.7" stroke="#231f20" stroke-width="1"/>
<text x="330.9" y="369.58" font-size="7.9" text-anchor="start" textLength="10.4" lengthAdjust="spacingAndGlyphs" >0.4</text>
<path d="M344.8 354.87H347.7" stroke="#231f20" stroke-width="1"/>
<text x="330.9" y="357.67" font-size="7.9" text-anchor="start" textLength="10.4" lengthAdjust="spacingAndGlyphs" >0.6</text>
<path d="M344.8 342.96H347.7" stroke="#231f20" stroke-width="1"/>
<text x="330.9" y="345.76" font-size="7.9" text-anchor="start" textLength="10.4" lengthAdjust="spacingAndGlyphs" >0.8</text>
<path d="M344.8 331.05H347.7" stroke="#231f20" stroke-width="1"/>
<text x="330.9" y="333.85" font-size="7.9" text-anchor="start" textLength="10.4" lengthAdjust="spacingAndGlyphs" >1.0</text>
<path d="M344.8 319.14H347.7" stroke="#231f20" stroke-width="1"/>
<text x="330.9" y="321.94" font-size="7.9" text-anchor="start" textLength="10.4" lengthAdjust="spacingAndGlyphs" >1.2</text>
<path d="M344.8 307.23H347.7" stroke="#231f20" stroke-width="1"/>
<text x="330.9" y="310.03000000000003" font-size="7.9" text-anchor="start" textLength="10.4" lengthAdjust="spacingAndGlyphs" >1.4</text>
<path d="M344.8 295.32H347.7" stroke="#231f20" stroke-width="1"/>
<text x="330.9" y="298.12" font-size="7.9" text-anchor="start" textLength="10.4" lengthAdjust="spacingAndGlyphs" >1.6</text>
<path d="M397.3 390.6v2.8" stroke="#231f20" stroke-width="1"/>
<path d="M447.7 390.6v2.8" stroke="#231f20" stroke-width="1"/>
<path d="M497.8 390.6v2.8" stroke="#231f20" stroke-width="1"/>
<text x="359.6" y="403.7" font-size="8.1" text-anchor="start" textLength="26.2" lengthAdjust="spacingAndGlyphs" >Control</text>
<text x="400.5" y="403.7" font-size="8.1" text-anchor="start" textLength="44.8" lengthAdjust="spacingAndGlyphs" >CCT241736</text>
<text x="456.7" y="403.7" font-size="8.1" text-anchor="start" textLength="31.1" lengthAdjust="spacingAndGlyphs" >MLN518</text>
<text transform="translate(323.5,373.8) rotate(-90)" font-size="8.8" style="stroke-width:0.3px" textLength="65.1" lengthAdjust="spacingAndGlyphs">Relative protein levels</text>
<rect x="356.4" y="331.05" width="10.85" height="59.55" fill="#4f2769"/>
<rect x="367.2" y="331.05" width="10.85" height="59.55" fill="#dd8f1a"/>
<rect x="378.0" y="331.05" width="10.85" height="59.55" fill="#396955"/>
<path d="M361.8 325.1V337.0M360.5 325.1h2.6M360.5 337.0h2.6" fill="none" stroke="#0a0a0a" stroke-width="0.95"/>
<path d="M372.6 328.07V334.03M371.3 328.07h2.6M371.3 334.03h2.6" fill="none" stroke="#0a0a0a" stroke-width="0.95"/>
<path d="M383.4 319.74V342.36M382.1 319.74h2.6M382.1 342.36h2.6" fill="none" stroke="#0a0a0a" stroke-width="0.95"/>
<rect x="406.3" y="372.14" width="10.85" height="18.46" fill="#4f2769"/>
<rect x="417.1" y="348.32" width="10.85" height="42.28" fill="#dd8f1a"/>
<rect x="427.9" y="364.99" width="10.85" height="25.61" fill="#396955"/>
<path d="M411.7 366.78V377.5M410.4 366.78h2.6M410.4 377.5h2.6" fill="none" stroke="#0a0a0a" stroke-width="0.95"/>
<path d="M422.5 341.77V354.87M421.2 341.77h2.6M421.2 354.87h2.6" fill="none" stroke="#0a0a0a" stroke-width="0.95"/>
<path d="M433.3 351.3V378.69M432.0 351.3h2.6M432.0 378.69h2.6" fill="none" stroke="#0a0a0a" stroke-width="0.95"/>
<rect x="456.4" y="341.95" width="10.85" height="48.65" fill="#4f2769"/>
<rect x="467.2" y="347.13" width="10.85" height="43.47" fill="#dd8f1a"/>
<rect x="478.0" y="319.32" width="10.85" height="71.28" fill="#396955"/>
<path d="M461.8 329.74V354.16M460.5 329.74h2.6M460.5 354.16h2.6" fill="none" stroke="#0a0a0a" stroke-width="0.95"/>
<path d="M472.6 332.24V362.02M471.3 332.24h2.6M471.3 362.02h2.6" fill="none" stroke="#0a0a0a" stroke-width="0.95"/>
<path d="M483.4 302.82V335.81M482.1 302.82h2.6M482.1 335.81h2.6" fill="none" stroke="#0a0a0a" stroke-width="0.95"/>
<rect x="373.1" y="255.30" width="3.7" height="3.8" fill="#4f2769"/>
<text x="380.7" y="259.7" font-size="7.9" text-anchor="start" textLength="78.5" lengthAdjust="spacingAndGlyphs" >p-STAT5 / Total STAT5</text>
<rect x="373.1" y="265.70" width="3.7" height="3.8" fill="#dd8f1a"/>
<text x="380.7" y="270.1" font-size="7.9" text-anchor="start" textLength="63.2" lengthAdjust="spacingAndGlyphs" >Survivin / GAPDH</text>
<rect x="373.1" y="276.10" width="3.7" height="3.8" fill="#396955"/>
<text x="380.7" y="280.5" font-size="7.9" text-anchor="start" textLength="94.6" lengthAdjust="spacingAndGlyphs" >p-Aurora A / Total Aurora A</text>
</g>
<path d="M0 0.5H520" stroke="#000" stroke-width="1"/><path d="M0.5 0V427" stroke="#000" stroke-width="1"/><rect x="518.4" y="0" width="1.6" height="427" fill="#000"/><rect x="0" y="425" width="520" height="2" fill="#000"/>
</svg></body></html>
